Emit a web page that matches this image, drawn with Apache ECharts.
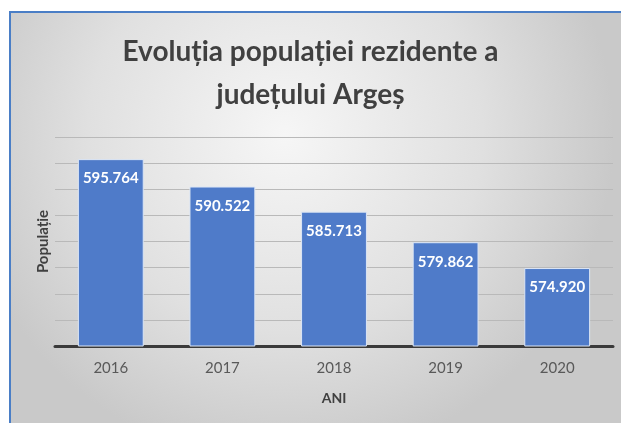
<!DOCTYPE html>
<html>
<head>
<meta charset="utf-8">
<script src="https://cdn.jsdelivr.net/npm/echarts@6/dist/echarts.min.js"></script>
<style>
html,body{margin:0;padding:0;background:#fff;}
#c{width:621px;height:423px;}
</style>
</head>
<body>
<div id="c"></div>
<script>
const titleText = 'Evoluția populației rezidente a\njudețului Argeș';
const categories = ['2016', '2017', '2018', '2019', '2020'];
const population = [595764, 590522, 585713, 579862, 574920];
const yAxisName = 'Populație';
const xAxisName = 'ANI';

const chart = echarts.init(document.getElementById('c'));
const fmt = v => {
  const s = String(v);
  return s.slice(0, s.length - 3) + '.' + s.slice(-3);
};
chart.setOption({
  animation: false,
  textStyle: {fontFamily: 'Lato'},
  graphic: [
    {type: 'rect', z: -10, silent: true,
     shape: {x: 10, y: 12, width: 611, height: 411},
     style: {fill: new echarts.graphic.RadialGradient(0.45, 0.3, 0.8, [
       {offset: 0, color: '#f6f6f6'},
       {offset: 0.6, color: '#e0e0e0'},
       {offset: 1, color: '#c9c9c9'}
     ])}},
    {type: 'line', z: -5, silent: true, shape: {x1: 10, y1: 12, x2: 10, y2: 423}, style: {stroke: '#4a7ec6', lineWidth: 2}},
    {type: 'line', z: -5, silent: true, shape: {x1: 9, y1: 12, x2: 621, y2: 12}, style: {stroke: '#4a7ec6', lineWidth: 2}}
  ],
  title: {
    text: titleText,
    left: 'center',
    top: 25,
    textStyle: {fontFamily: 'Lato', fontWeight: 'bold', fontSize: 28, color: '#404040', lineHeight: 43}
  },
  grid: {left: 55, right: 8, top: 137, bottom: 77},
  xAxis: {
    type: 'category',
    data: categories,
    name: xAxisName,
    nameLocation: 'middle',
    nameGap: 45,
    nameTextStyle: {fontFamily: 'Lato', fontWeight: 'bold', fontSize: 14, color: '#404040'},
    axisLine: {lineStyle: {color: '#3a3a3a', width: 3}},
    axisTick: {show: false},
    axisLabel: {fontFamily: 'Lato', color: '#595959', fontSize: 15, margin: 15}
  },
  yAxis: {
    type: 'value',
    min: 560000,
    max: 600000,
    interval: 5000,
    name: yAxisName,
    nameLocation: 'middle',
    nameGap: 4,
    nameRotate: 90,
    nameTextStyle: {fontFamily: 'Lato', fontWeight: 'bold', fontSize: 15, color: '#404040'},
    axisLabel: {show: false},
    axisLine: {show: false},
    axisTick: {show: false},
    splitLine: {lineStyle: {color: '#b9b9b9', width: 1}}
  },
  series: [{
    type: 'bar',
    data: population,
    barWidth: '59%',
    itemStyle: {color: '#4f7bc9', borderColor: '#dce6f5', borderWidth: 1},
    label: {
      show: true,
      position: 'insideTop',
      distance: 12,
      color: '#ffffff',
      fontFamily: 'Lato',
      fontWeight: 'bold',
      fontSize: 15,
      formatter: p => fmt(p.value)
    }
  }]
});
</script>
</body>
</html>
